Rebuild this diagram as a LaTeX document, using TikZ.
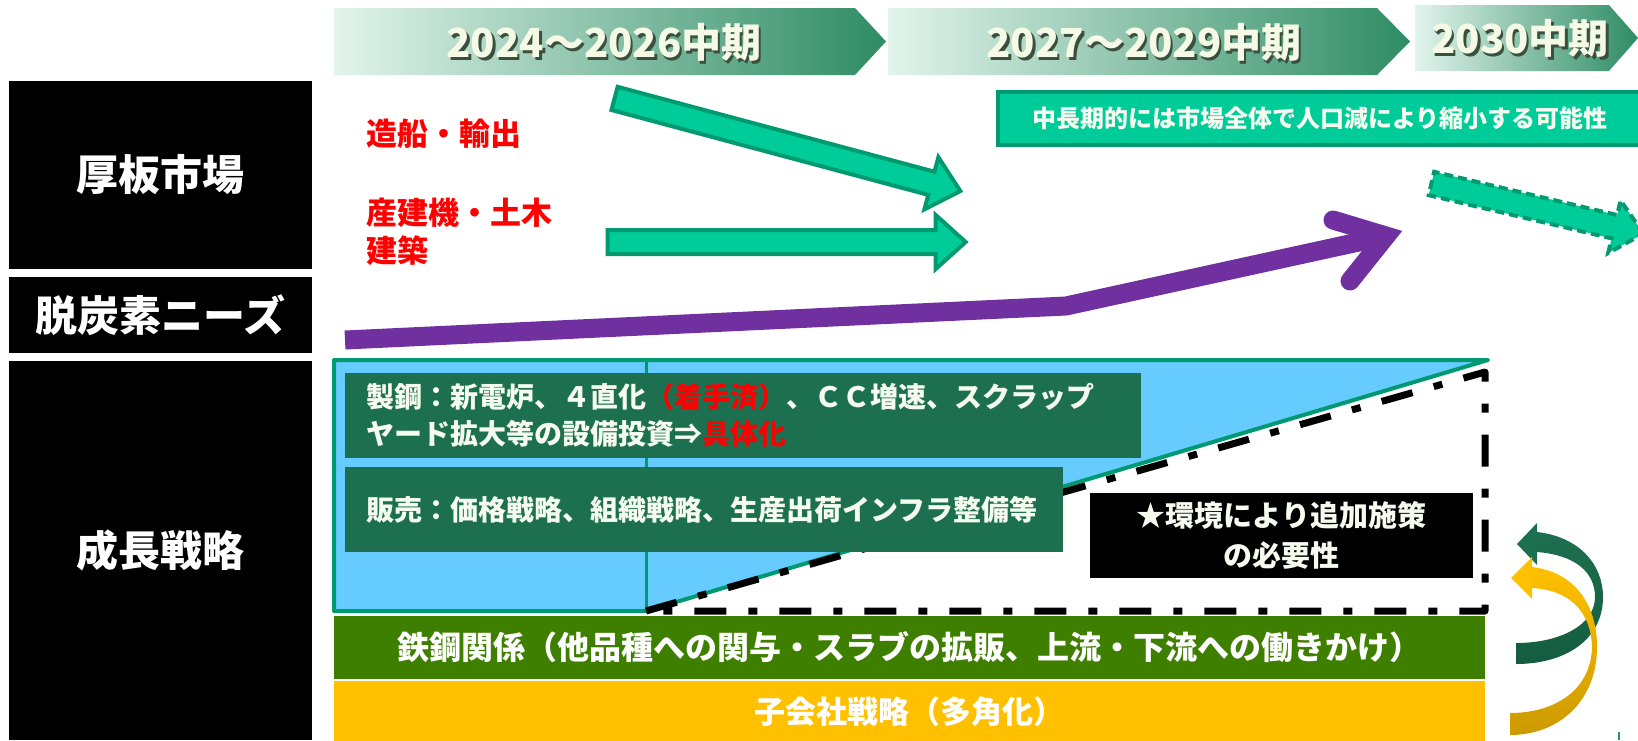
\documentclass[tikz,border=0pt]{standalone}
\usepackage{fontspec}
\usepackage{xcolor}
\usepackage{tikz}
\usetikzlibrary{shapes.arrows}
\setmainfont{Noto Sans CJK JP}

\definecolor{phaselight}{HTML}{E2F4EC}
\definecolor{phasemid}{HTML}{66C99A}
\definecolor{phasedark}{HTML}{2E8C64}
\definecolor{phasecream}{HTML}{F4FAE6}
\definecolor{phaseshadow}{HTML}{3B4F3F}
\definecolor{arrowfill}{HTML}{00CC99}
\definecolor{arrowedge}{HTML}{009970}
\definecolor{needpurple}{HTML}{7030A0}
\definecolor{skyfill}{HTML}{66CCFF}
\definecolor{steelgreen}{HTML}{1D704F}
\definecolor{steeldark}{HTML}{145C3F}
\definecolor{barolive}{HTML}{3F7F00}
\definecolor{baryellow}{HTML}{FFC000}
\definecolor{bargold}{HTML}{CC9A00}
\definecolor{boxcream}{HTML}{F5FBEF}

\newcommand{\phaselabel}[1]{\makebox[0pt][l]{\hspace{2.5pt}\raisebox{-2.5pt}{\color{phaseshadow}#1}}#1}

\begin{document}
\begin{tikzpicture}[x = 1pt, y = -1pt,
	rowlabel/.style = {fill = black, text = white, inner sep = 0, minimum width = 303, font = \bfseries\fontsize{42}{50}\selectfont},
	phasetext/.style = {text = phasecream, inner sep = 0, font = \bfseries\fontsize{40}{48}\selectfont},
	markettext/.style = {text = red, anchor = west, align = left, inner sep = 0, font = \bfseries\fontsize{31}{38}\selectfont},
	blockarrow/.style = {single arrow, fill = arrowfill, draw = arrowedge, line width = 4, inner sep = 10, single arrow head extend = 15, single arrow tip angle = 84},
	measurebox/.style = {fill = steelgreen, text = boxcream, inner xsep = 21, inner ysep = 0, font = \bfseries\fontsize{28}{37}\selectfont},
	barlabel/.style = {text = white, inner sep = 0, minimum width = 1151, font = \bfseries\fontsize{32}{36}\selectfont}]
	\useasboundingbox (0,0) rectangle (1638,740);
	\clip (0,0) rectangle (1638,740);

	\begin{scope}
		\shade [left color = phaselight, middle color = phasemid, right color = phasedark] (334,8) -- (855,8) -- (886,41.5) -- (855,75) -- (334,75) -- cycle;
		\shade [left color = phaselight, middle color = phasemid, right color = phasedark] (888,8) -- (1377,8) -- (1410,41.5) -- (1377,75) -- (888,75) -- cycle;
		\shade [left color = phaselight, middle color = phasemid, right color = phasedark] (1415,5) -- (1609,5) -- (1638,38) -- (1609,71) -- (1415,71) -- cycle;
		\node [phasetext] (phaseA) at (604,44) {\phaselabel{2024～2026中期}};
		\node [phasetext] (phaseB) at (1144,44) {\phaselabel{2027～2029中期}};
		\node [phasetext] (phaseC) at (1520,40) {\phaselabel{2030中期}};
	\end{scope}

	\node [rowlabel, minimum height = 188] (rowmarket) at (160.5,174.5) {厚板市場};
	\node [rowlabel, minimum height = 76] (rowdecarb) at (160.5,315) {脱炭素ニーズ};
	\node [rowlabel, minimum height = 379] (rowgrowth) at (160.5,550.5) {成長戦略};

	\node [markettext] (shiptext) at (366,134) {造船・輸出};
	\node [markettext] (buildtext) at (366,232) {産建機・土木\\建築};

	\begin{scope}
		\node [blockarrow, minimum height = 358, rotate = -15] (shiparrow) at (781,143) {};
		\node [blockarrow, minimum height = 358] (buildarrow) at (780,242) {};
		\node [blockarrow, dash pattern = on 9pt off 5pt, minimum height = 218, rotate = -13.3] (shrinkarrow) at (1531,207) {};
	\end{scope}

	\node [fill = arrowfill, draw = arrowedge, line width = 4, minimum width = 644, minimum height = 53, text = boxcream, font = \bfseries\fontsize{24}{30}\selectfont] (shrinkbox) at (1320,118.5) {中長期的には市場全体で人口減により縮小する可能性};

	\begin{scope}
		\coordinate (needstart) at (345,340);
		\coordinate (needbend) at (1066,306);
		\coordinate (needtip) at (1386,236);
		\coordinate (needbarbup) at (1333,220);
		\coordinate (needbarblow) at (1350,281);
		\draw [needpurple, line width = 19] (needstart) -- (needbend) -- (needtip);
		\draw [needpurple, line width = 19, line cap = round] (needbarbup) -- (needtip) -- (needbarblow);
	\end{scope}

	\begin{scope}
		\draw [fill = skyfill, draw = arrowedge, line width = 4, line join = round] (334,360) -- (1488,360) -- (646,611) -- (334,611) -- cycle;
		\draw [arrowedge, line width = 3] (646,360) -- (646,611);
		\draw [black, line width = 7, line join = round, dash pattern = on 32pt off 22pt on 9pt off 22pt] (646,611) -- (1485,372) -- (1485,611) -- cycle;
	\end{scope}

	\node [measurebox, anchor = north west, minimum height = 85, text width = 754, align = left] (steelbox) at (345,373) {製鋼：新電炉、４直化{\color{red}（着手済）}、ＣＣ増速、スクラップ\\ヤード拡大等の設備投資⇒{\color{red}具体化}};
	\node [measurebox, anchor = north west, minimum height = 85, text width = 676, align = left] (salesbox) at (345,467) {販売：価格戦略、組織戦略、生産出荷インフラ整備等};
	\node [fill = black, text = boxcream, minimum width = 383, minimum height = 85, align = center, inner sep = 0, font = \bfseries\fontsize{29}{40}\selectfont] (extrabox) at (1281.5,535.5) {★環境により追加施策\\の必要性};

	\node [barlabel, fill = barolive, minimum height = 63] (relationbar) at (909.5,647.5) {鉄鋼関係（他品種への関与・スラブの拡販、上流・下流への働きかけ）};
	\node [barlabel, fill = baryellow, minimum height = 61, font = \bfseries\fontsize{31}{36}\selectfont] (subsidbar) at (909.5,711.5) {子会社戦略（多角化）};

	\begin{scope}
		\shade [top color = steelgreen, middle color = steelgreen, bottom color = steeldark] (1537,532) .. controls (1580,537) and (1603,565) .. (1603,597) .. controls (1603,640) and (1565,664) .. (1516,664) -- (1516,643) .. controls (1560,643) and (1595,625) .. (1595,597) .. controls (1595,572) and (1575,555) .. (1537,552) -- cycle;
		\fill [steelgreen] (1517,544) -- (1537,523) -- (1537,565) -- cycle;
		\shade [top color = baryellow, middle color = baryellow, bottom color = bargold] (1532,567) .. controls (1575,572) and (1597,605) .. (1597,647) .. controls (1597,700) and (1560,735) .. (1510,735) -- (1510,713) .. controls (1555,713) and (1591,690) .. (1592,647) .. controls (1591,612) and (1570,590) .. (1532,588) -- cycle;
		\fill [baryellow] (1511,578) -- (1532,557) -- (1532,599) -- cycle;
		\draw [arrowedge!60!gray, line width = 1.5] (1619,732) -- (1619,740);
	\end{scope}
\end{tikzpicture}
\end{document}
